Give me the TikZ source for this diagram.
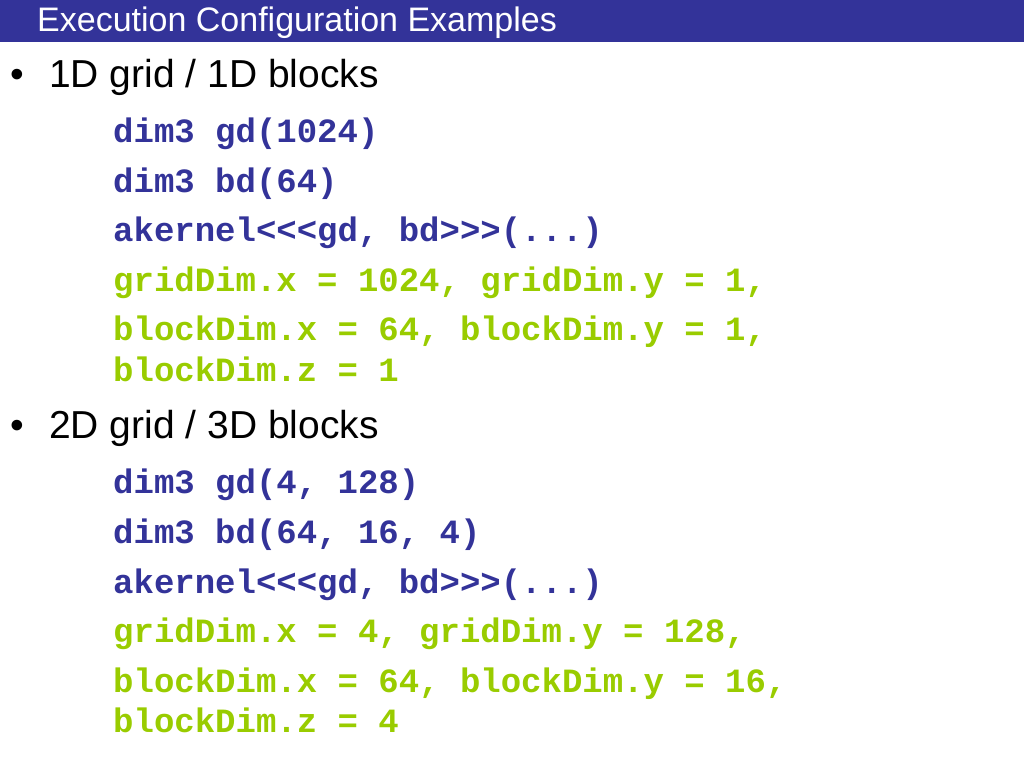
\documentclass[tikz,border=0pt]{standalone}
\usepackage{fontspec}
\setmainfont{Liberation Sans}
\newfontfamily\codefont{Liberation Mono}
\usetikzlibrary{positioning}
\definecolor{slideblue}{HTML}{333399}
\definecolor{codegreen}{HTML}{99CC00}

\begin{document}
\begin{tikzpicture}[x=1pt,y=-1pt,
		head/.style={anchor=base west,inner sep=0pt,font=\fontsize{39}{44}\selectfont},
		code/.style={anchor=base west,inner sep=0pt,text=slideblue,font=\codefont\bfseries\fontsize{34}{38}\selectfont},
		val/.style={code,text=codegreen}]
		\def\cx{113}
		\def\hx{49}
		\useasboundingbox (0,0) rectangle (1024,768);
		% barra del titolo
		\fill[slideblue] (0,0) rectangle (1024,42);
		\node[anchor=base west,inner sep=0pt,text=white,font=\fontsize{34}{36}\selectfont] (title) at (37,32) {Execution Configuration Examples};
		% primo esempio
		\node[head] (dotA) at (10,87) {\textbullet};
		\node[head] (headA) at (\hx,87) {1D grid / 1D blocks};
		\node[code] (gdA) at (\cx,142) {dim3 gd(1024)};
		\node[code] (bdA) at (\cx,192) {dim3 bd(64)};
		\node[code] (callA) at (\cx,241) {akernel<{}<{}<gd, bd>{}>{}>(...)};
		\node[val] (gridA) at (\cx,291) {gridDim.x = 1024, gridDim.y = 1,};
		\node[val] (blockA) at (\cx,340) {blockDim.x = 64, blockDim.y = 1,};
		\node[val] (blockzA) at (\cx,381) {blockDim.z = 1};
		% secondo esempio
		\node[head] (dotB) at (10,438) {\textbullet};
		\node[head] (headB) at (\hx,438) {2D grid / 3D blocks};
		\node[code] (gdB) at (\cx,493) {dim3 gd(4, 128)};
		\node[code] (bdB) at (\cx,543) {dim3 bd(64, 16, 4)};
		\node[code] (callB) at (\cx,593) {akernel<{}<{}<gd, bd>{}>{}>(...)};
		\node[val] (gridB) at (\cx,642) {gridDim.x = 4, gridDim.y = 128,};
		\node[val] (blockB) at (\cx,692) {blockDim.x = 64, blockDim.y = 16,};
		\node[val] (blockzB) at (\cx,732) {blockDim.z = 4};
	\end{tikzpicture}
\end{document}
